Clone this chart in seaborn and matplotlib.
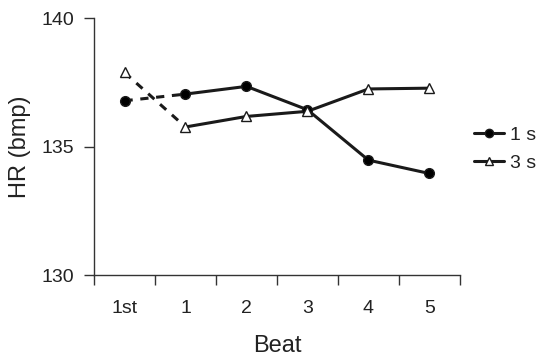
import matplotlib
matplotlib.use("Agg")
import matplotlib.pyplot as plt
import seaborn as sns
import pandas as pd
from matplotlib.lines import Line2D

beats = ["1st", "1", "2", "3", "4", "5"]
hr_1s = [136.78, 137.04, 137.34, 136.43, 134.47, 133.95]
hr_3s = [137.88, 135.76, 136.17, 136.37, 137.24, 137.27]

sns.set_style("white")
plt.rcParams['font.family'] = ['Liberation Sans', 'DejaVu Sans']
plt.rcParams['text.color'] = '#222222'
plt.rcParams['axes.labelcolor'] = '#222222'
plt.rcParams['xtick.color'] = '#222222'
plt.rcParams['ytick.color'] = '#222222'

fig = plt.figure(figsize=(5.36, 3.56), dpi=100)
ax = fig.add_axes([0.1754, 0.2275, 0.858 - 0.1754, 0.9494 - 0.2275])

pos = list(range(len(beats)))
df = pd.DataFrame({
    "pos": pos * 2,
    "hr": hr_1s + hr_3s,
    "series": ["1 s"] * len(pos) + ["3 s"] * len(pos),
})
solid = df[df["pos"] >= 1]
dashed = df[df["pos"] <= 1]

styles = {"1 s": dict(marker="o", mfc="black", ms=7),
          "3 s": dict(marker="^", mfc="white", ms=6.5)}

for name in ["1 s", "3 s"]:
    d = dashed[dashed["series"] == name]
    sns.lineplot(data=d, x="pos", y="hr", ax=ax, color="#1a1a1a", lw=2.2,
                 linestyle=(0, (2.7, 2.5)), legend=False)
    s = solid[solid["series"] == name]
    sns.lineplot(data=s, x="pos", y="hr", ax=ax, color="#1a1a1a", lw=2.2,
                 legend=False)
    ax.plot(pos, df[df["series"] == name]["hr"].values, linestyle="none",
            marker=styles[name]["marker"], mfc=styles[name]["mfc"],
            mec="#1a1a1a", ms=styles[name]["ms"], mew=1.0, zorder=5)

ax.set_xlim(-0.5, len(beats) - 0.5)
ax.set_ylim(130, 140)
ax.set_yticks([130, 135, 140])
ax.set_xticks([p - 0.5 for p in range(len(beats) + 1)])
ax.set_xticklabels([])
ax.set_xticks(pos, minor=True)
ax.set_xticklabels(beats, minor=True)
ax.tick_params(axis="x", which="major", length=7, width=1, direction="out",
               bottom=True, color="#333333")
ax.tick_params(axis="x", which="minor", length=0, pad=18, labelsize=14)
ax.tick_params(axis="y", length=7, width=1, direction="out", left=True,
               labelsize=14, pad=7, color="#333333")
for sp in ["top", "right"]:
    ax.spines[sp].set_visible(False)
for sp in ["left", "bottom"]:
    ax.spines[sp].set_color("#333333")
    ax.spines[sp].set_linewidth(1)

ax.set_xlabel("Beat", fontsize=17, labelpad=13)
ax.set_ylabel("HR (bmp)", fontsize=17, labelpad=8)

handles = [Line2D([], [], color="#1a1a1a", lw=2.2, marker="o", mfc="black",
                  mec="#1a1a1a", ms=6),
           Line2D([], [], color="#1a1a1a", lw=2.2, marker="^", mfc="white",
                  mec="#1a1a1a", ms=5.5)]
fig.legend(handles, ["1 s", "3 s"], loc="center left",
           bbox_to_anchor=(0.884, 0.581), frameon=False, fontsize=14,
           handlelength=1.55, handletextpad=0.3, labelspacing=0.55,
           borderaxespad=0, borderpad=0)

fig.savefig("out.png", dpi=100)
